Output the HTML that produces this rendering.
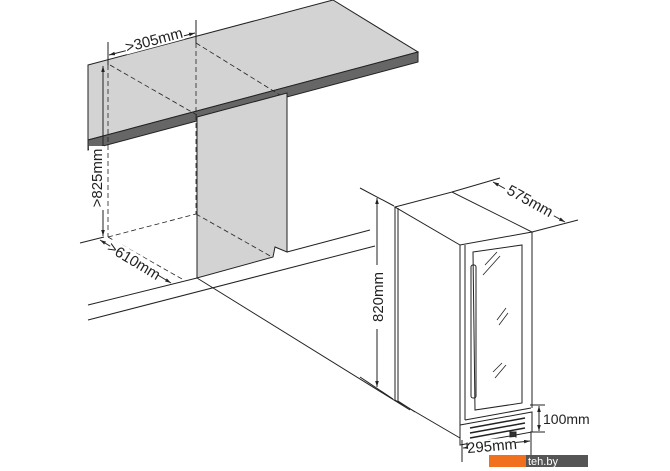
<!DOCTYPE html>
<html><head><style>body{margin:0;background:#fff}svg{display:block}text{font-family:"Liberation Sans",sans-serif;fill:#222}</style></head>
<body>
<svg width="670" height="471" viewBox="0 0 670 471" xmlns="http://www.w3.org/2000/svg">
<defs><marker id="a" viewBox="0 0 10 10" refX="10" refY="5" markerWidth="6" markerHeight="6" orient="auto-start-reverse"><path d="M0,2 L10,5 L0,8z" fill="#222"/></marker></defs>
<g stroke="#222" stroke-width="1" fill="none">
<polygon points="88,65 333,0 418,52 88,140" fill="#d3d3d3"/>
<polygon points="88,140 418,52 418,62 88,150" fill="#666"/>
<polygon points="197,117 287,93 287,252 275,247 273,257 197,278" fill="#d3d3d3"/>
<line x1="88" y1="305" x2="197" y2="278"/>
<line x1="287" y1="252" x2="370" y2="230"/>
<line x1="88" y1="320" x2="375" y2="246"/>
<line x1="197" y1="278" x2="410" y2="410"/>
<line x1="80" y1="243" x2="104" y2="237"/>
<g stroke-dasharray="5,3" stroke-width="0.8">
<line x1="108" y1="65" x2="108" y2="237"/>
<line x1="196" y1="43" x2="196" y2="214"/>
<line x1="110" y1="65" x2="197" y2="115"/>
<line x1="196" y1="43" x2="280" y2="95"/>
<line x1="108" y1="237" x2="196" y2="214"/>
<line x1="196" y1="214" x2="272" y2="257"/>
<line x1="108" y1="237" x2="182" y2="279"/>
</g>
<line x1="108" y1="42" x2="108" y2="65"/>
<line x1="196" y1="20" x2="196" y2="43"/>
<line x1="109" y1="55" x2="195" y2="33" marker-start="url(#a)" marker-end="url(#a)"/>
<line x1="103" y1="66" x2="103" y2="236" marker-start="url(#a)" marker-end="url(#a)"/>
<line x1="100" y1="240" x2="171" y2="283" marker-start="url(#a)" marker-end="url(#a)"/>
<polygon points="395,207 452,192 532,232 460,245" fill="#fff"/>
<polyline points="395,207 395,400 460,438"/>
<line x1="398" y1="208" x2="398" y2="401"/>
<line x1="460" y1="245" x2="460" y2="438"/>
<line x1="532" y1="232" x2="532" y2="408"/>
<line x1="465" y1="245" x2="465" y2="420"/>
<polygon points="473,252 522,245 522,403 475,410"/>
<rect x="471" y="265" width="5" height="133" rx="2"/>
<line x1="465" y1="420" x2="531" y2="408"/>
<polygon points="460,425 532,412 532,432 460,445"/>
<g stroke-width="1.5"><line x1="470" y1="428" x2="525" y2="418"/><line x1="470" y1="433" x2="525" y2="423"/><line x1="470" y1="438" x2="525" y2="428"/></g>
<rect x="467" y="443" width="6" height="5" fill="#333"/>
<rect x="510" y="432" width="6" height="5" fill="#333"/>
<line x1="398" y1="401" x2="415" y2="412"/>
<g stroke-width="0.8">
<line x1="485" y1="265" x2="497" y2="252"/><line x1="483" y1="275" x2="500" y2="256"/>
<line x1="497" y1="320" x2="506" y2="308"/><line x1="499" y1="325" x2="508" y2="313"/>
<line x1="493" y1="372" x2="502" y2="363"/><line x1="495" y1="378" x2="506" y2="365"/>
</g>
<line x1="360" y1="188" x2="394" y2="206"/>
<line x1="360" y1="377" x2="393" y2="399"/>
<line x1="377" y1="198" x2="377" y2="387" marker-start="url(#a)" marker-end="url(#a)"/>
<line x1="452" y1="192" x2="500" y2="178"/>
<line x1="532" y1="232" x2="578" y2="220"/>
<line x1="493" y1="182" x2="565" y2="222" marker-start="url(#a)" marker-end="url(#a)"/>
<line x1="530" y1="405" x2="545" y2="405"/>
<line x1="530" y1="432" x2="545" y2="432"/>
<line x1="539" y1="406" x2="539" y2="431" marker-start="url(#a)" marker-end="url(#a)"/>
<line x1="462" y1="440" x2="462" y2="462"/>
<line x1="531" y1="432" x2="531" y2="455"/>
<line x1="463" y1="448" x2="530" y2="441" marker-start="url(#a)" marker-end="url(#a)"/>
</g>
<rect x="124" y="31" width="60" height="16" fill="#fff" transform="rotate(-15 154 40)"/>
<text x="154" y="45" font-size="15" text-anchor="middle" transform="rotate(-15 154 40)">&gt;305mm</text>
<rect x="89" y="146" width="15" height="64" fill="#fff"/>
<text x="0" y="0" font-size="15" text-anchor="middle" transform="translate(102 178) rotate(-90)">&gt;825mm</text>
<rect x="106" y="253" width="56" height="16" fill="#fff" transform="rotate(31 134 261)"/>
<text x="134" y="266" font-size="15" text-anchor="middle" transform="rotate(31 134 261)">&gt;610mm</text>
<rect x="369" y="265" width="14" height="64" fill="#fff"/>
<text x="0" y="0" font-size="15" text-anchor="middle" transform="translate(383 297) rotate(-90)">820mm</text>
<rect x="502" y="193" width="56" height="16" fill="#fff" transform="rotate(29 530 201)"/>
<text x="530" y="206" font-size="15" text-anchor="middle" transform="rotate(29 530 201)">575mm</text>
<text x="543" y="424" font-size="14">100mm</text>
<rect x="468" y="439" width="48" height="13" fill="#fff" transform="rotate(-5 492 446)"/>
<text x="492" y="451" font-size="15" text-anchor="middle" transform="rotate(-5 492 446)">295mm</text>
<rect x="489" y="455" width="37" height="12" fill="#f07020"/>
<rect x="526" y="455" width="62" height="12" fill="#555"/>
<text x="528" y="465" font-size="11" style="fill:#fff">teh.by</text>
</svg>
</body></html>
